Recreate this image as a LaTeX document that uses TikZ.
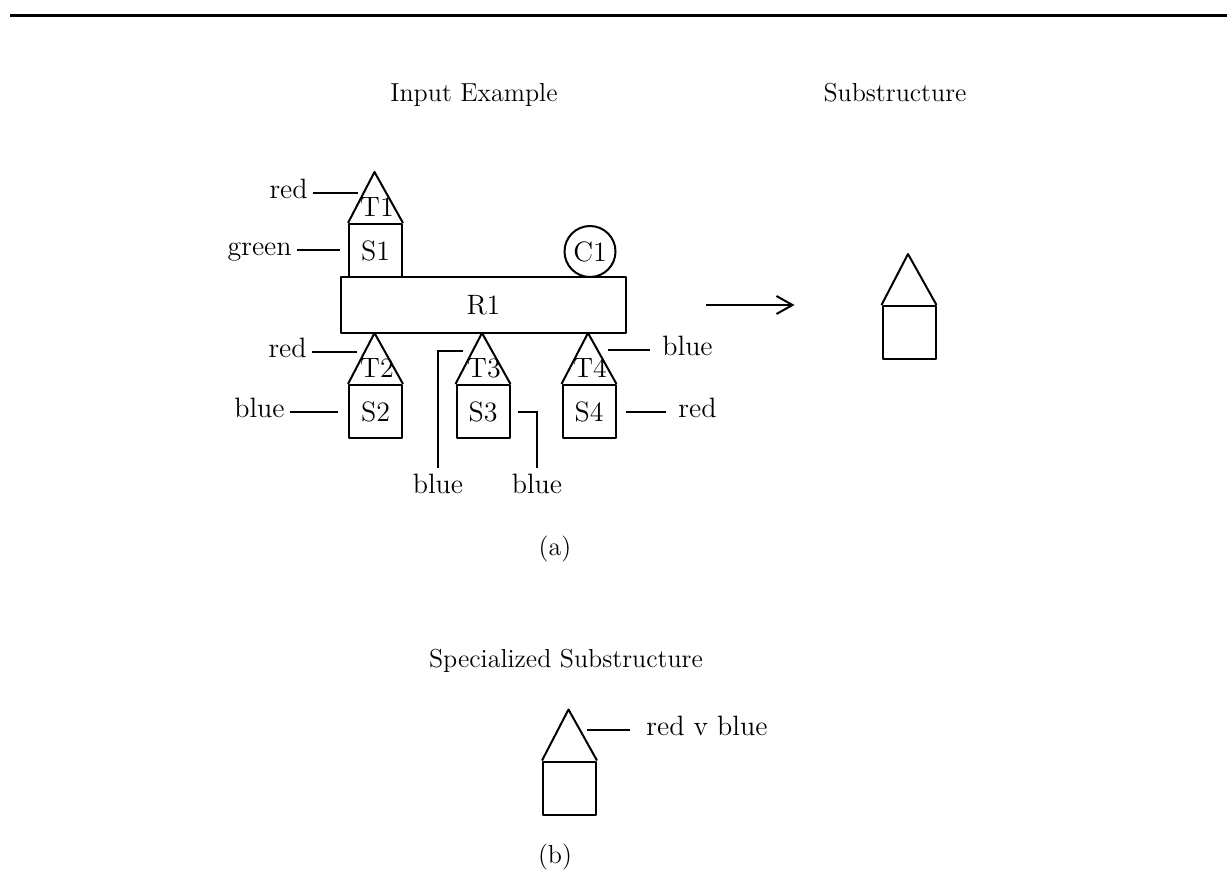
\documentclass[tikz,border=0pt]{standalone}
\usetikzlibrary{arrows.meta}

\newcommand{\labelfont}{\fontsize{14}{16}\selectfont}
\newcommand{\titlefont}{\fontsize{13}{15}\selectfont}

\tikzset{
  outline/.style={line width=1pt, line join=round},
  housebox/.style={draw, outline, rectangle, minimum width=26.5pt,
    minimum height=26.5pt, inner sep=0pt, font=\labelfont},
  tag/.style={font=\labelfont, inner sep=0pt, text height=1.6ex, text depth=0.3ex},
  heading/.style={tag, font=\titlefont},
  lead/.style={line width=0.8pt},
}

\begin{document}
\begin{tikzpicture}[x=0.5pt, y=-0.5pt]

  \useasboundingbox (0,0) rectangle (1230,888);

  %-- rule at the top --
  \draw[line width=1.5pt] (10,16) -- (1227,16);

  %-- titles --
  \node[heading] (title-in)  at (474,96) {Input Example};
  \node[heading] (title-sub) at (895,96) {Substructure};

  %-- input example --
  \node[housebox, minimum width=142.5pt, minimum height=28pt] (R1) at (483.5,305) {R1};
  \node[housebox] (S1) at (375.5,250.5) {S1};
  \node[housebox] (S2) at (375.5,411.5) {S2};
  \node[housebox] (S3) at (483,411.5) {S3};
  \node[housebox] (S4) at (589,411.5) {S4};
  \node[draw, outline, circle, minimum size=25.5pt, inner sep=0pt, font=\labelfont]
    (C1) at (590,251.5) {C1};

  %-- substructures --
  \node[housebox] (SubS)  at (909,332.5) {};
  \node[housebox] (SpecS) at (569.5,788) {};

  %-- roofs --
  \foreach \s/\t in {S1/T1, S2/T2, S3/T3, S4/T4, SubS/SubT, SpecS/SpecT}
    \draw[outline] (\s.north west) -- ++(26.5,-51) coordinate (\t-top) -- (\s.north east);

  \foreach \t/\x/\y in {T1/377/211, T2/377/372, T3/484/372, T4/590/372}
    \node[tag] (\t) at (\x,\y) {\t};

  %-- colour labels, left side --
  \foreach \nm/\txt/\tx/\lx/\y in {redA/red/308/358/193, greenA/green/292/340/250,
                                   redB/red/307/357/352, blueB/blue/285/338/412}{
    \node[tag, anchor=east] (\nm) at (\tx,\y) {\txt};
    \coordinate (\nm-end) at (\lx,\y);
    \draw[lead, shorten <=2.5pt] (\nm) -- (\nm-end);
  }

  %-- colour labels, right side --
  \foreach \nm/\txt/\tx/\lx/\y in {blueD/blue/662/608/350, redD/red/678/626/412}{
    \node[tag, anchor=west] (\nm) at (\tx,\y) {\txt};
    \coordinate (\nm-end) at (\lx,\y);
    \draw[lead, shorten <=6pt] (\nm) -- (\nm-end);
  }

  %-- colour labels below --
  \node[tag] (blueT3) at (438,488) {blue};
  \node[tag] (blueS3) at (537,488) {blue};
  \coordinate (t3-end) at (463,351);
  \coordinate (s3-end) at (518,412);
  \draw[lead, shorten >=5.5pt] (t3-end) -| (blueT3.north);
  \draw[lead, shorten >=5.5pt] (s3-end) -| (blueS3.north);

  %-- arrow to substructure --
  \draw[line width=1pt, -{Straight Barb[length=8pt, width=9pt, line width=1pt]},
        shorten <=39.5pt, shorten >=43.5pt] (R1.east) -- (R1.east -| SubS.west);

  \node[heading] (cap-a) at (555,550) {(a)};

  %-- specialized substructure --
  \node[heading] (title-spec) at (566,662) {Specialized Substructure};
  \node[tag, anchor=west] (redvblue) at (646,730) {red v blue};
  \coordinate (spec-end) at (587,730);
  \draw[lead, shorten <=8pt] (redvblue) -- (spec-end);

  \node[heading] (cap-b) at (555,858) {(b)};

\end{tikzpicture}
\end{document}
